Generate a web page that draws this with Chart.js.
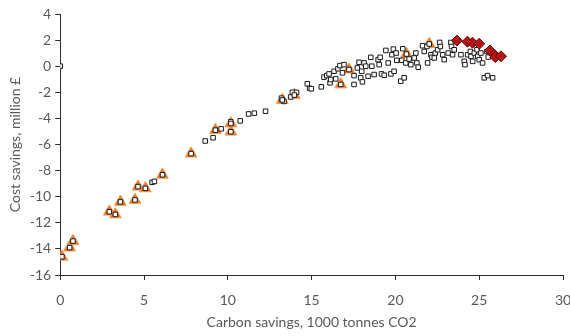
<!DOCTYPE html>
<html lang="en">
<head>
<meta charset="UTF-8">
<title>Carbon vs cost savings</title>
<script src="https://cdn.jsdelivr.net/npm/chart.js"></script>
<style>
  body { margin: 0; background: #fff; }
  #wrap { width: 570px; height: 336px; }
</style>
</head>
<body>
<div id="wrap"><canvas id="chart" width="570" height="336"></canvas></div>
<script>
// all options (open squares)
const optX = [0, 5.48, 5.62, 8.65, 9.12, 9.6, 10.18, 10.74, 11.24, 11.58, 12.25,
  13.2, 13.35, 13.75, 13.85, 14.1, 14.74, 14.88, 14.98,
  15.58, 15.74, 15.9, 16.04, 16.1, 16.14, 16.34, 16.44, 16.57, 16.69, 16.84, 16.93,
  17.53, 17.53, 17.83, 17.73, 17.99, 17.93, 18.03, 18.13, 18.23, 18.37, 18.53, 18.59,
  18.73, 18.97, 19.03, 19.09, 19.17, 19.33, 19.43, 19.57, 19.73, 19.79, 19.88, 19.92,
  20.04, 20.08, 20.32, 20.38, 20.44, 20.52, 20.62, 20.82, 20.92, 21.12, 21.28, 21.36,
  21.22, 21.62, 21.72, 21.88, 22.12, 21.92, 22.18, 22.32, 22.38, 22.52, 22.64, 22.68,
  22.82, 22.91, 23.15, 23.31, 23.35, 23.41, 23.51, 23.91, 24.11, 24.15, 24.31, 24.47,
  24.51, 24.61, 24.71, 24.87, 24.91, 25.0, 25.1, 25.2, 25.46, 25.54, 25.3, 25.5, 25.8];
const optY = [0, -8.9, -8.83, -5.73, -5.48, -4.8, -4.25, -4.19, -3.66, -3.6, -3.45,
  -2.45, -2.7, -2.36, -2.0, -2.0, -1.35, -1.7, -1.73,
  -1.58, -0.84, -0.72, -0.59, -1.27, -1.02, -0.39, -0.97, -0.2, 0.05, -0.51, 0.12,
  -0.72, -1.4, 0.3, -0.13, -0.39, -0.89, -1.2, 0.25, 0, -0.77, 0.68, 0,
  -0.64, 0.5, 0.12, 0.68, -0.59, -0.69, 1.21, 0.25, -0.59, 0.88, 1.31, -0.39,
  1.01, 0.45, -1.15, 0.45, 1.34, -0.89, 0.25, 0.55, 0.12, 0.63, 0.25, -0.08,
  1.01, 1.57, 1.13, 1.51, 0.88, 0.25, 0.68, 0.63, 1.01, 1.26, 1.82, 1.51,
  0.88, 0.5, 1.01, 1.82, 1.51, 0.88, 1.26, 0.88, 0.37, 0.12, 0.88, 1.13,
  0.75, 0.37, 1.01, 1.26, 0.75, 0.5, 1.01, 0.25, 1.13, 0.7, -0.89, -0.72, -0.89];

// selected options (orange triangles)
const selX = [0.1, 0.56, 0.76, 2.93, 3.29, 3.59, 4.46, 4.64, 5.08, 6.1, 7.81, 9.26,
  10.18, 10.18, 13.25, 13.97, 16.74, 17.23, 20.66, 22.02];
const selY = [-14.6, -13.9, -13.4, -11.15, -11.36, -10.4, -10.25, -9.23, -9.36, -8.32,
  -6.7, -4.9, -4.39, -5.02, -2.59, -2.21, -1.4, -0.26, 0.93, 1.7];

// frontier options (red diamonds)
const frontX = [23.67, 24.3, 24.6, 25.0, 25.64, 25.9, 25.96, 26.3];
const frontY = [1.96, 1.88, 1.8, 1.72, 1.2, 0.88, 0.7, 0.76];

const xTicks = [0, 5, 10, 15, 20, 25, 30];
const yTicks = [4, 2, 0, -2, -4, -6, -8, -10, -12, -14, -16];

const pts = (xs, ys) => xs.map((x, i) => ({ x: x, y: ys[i] }));

const axisColor = '#2e2e2e';
const textColor = '#595959';
const font = 'Lato, "Liberation Sans", sans-serif';

new Chart(document.getElementById('chart'), {
  type: 'scatter',
  data: {
    datasets: [
      {
        label: 'Frontier',
        data: pts(frontX, frontY),
        pointStyle: 'rectRot',
        pointRadius: 5.5,
        backgroundColor: '#b81414',
        borderColor: '#5a0a0a',
        borderWidth: 1,
        order: 1
      },
      {
        label: 'Options',
        data: pts(optX, optY).concat(pts(selX, selY)),
        pointStyle: 'rect',
        pointRadius: 3.2,
        backgroundColor: '#ffffff',
        borderColor: '#1a1a1a',
        borderWidth: 1,
        order: 2
      },
      {
        label: 'Selected',
        data: pts(selX, selY),
        pointStyle: 'triangle',
        pointRadius: 6.8,
        backgroundColor: '#ee7420',
        borderColor: '#f39a55',
        borderWidth: 1,
        order: 3
      }
    ]
  },
  options: {
    responsive: false,
    animation: false,
    layout: { autoPadding: false, padding: { top: 14, right: 0, bottom: 5, left: 7 } },
    plugins: { legend: { display: false }, tooltip: { enabled: false } },
    scales: {
      x: {
        type: 'linear',
        min: 0, max: 30,
        afterBuildTicks: s => { s.ticks = xTicks.map(v => ({ value: v })); },
        // tick padding would otherwise widen the right margin; fix box size by hand
        afterFit: s => { s.paddingRight = 7; s.paddingLeft = 0; s.height = 56; },
        grid: { drawOnChartArea: false, drawTicks: true, tickLength: 5, color: axisColor },
        border: { color: axisColor, width: 1 },
        ticks: { color: textColor, font: { family: font, size: 14 }, padding: 12 },
        title: { display: true, text: 'Carbon savings, 1000 tonnes CO2', color: textColor,
                 font: { family: font, size: 14 }, padding: { top: 0, bottom: 0 } }
      },
      y: {
        type: 'linear',
        min: -16, max: 4,
        afterBuildTicks: s => { s.ticks = yTicks.map(v => ({ value: v })); },
        grid: { drawOnChartArea: false, drawTicks: true, tickLength: 5, color: axisColor },
        border: { color: axisColor, width: 1 },
        ticks: { color: textColor, font: { family: font, size: 14 }, padding: 4 },
        title: { display: true, text: 'Cost savings, million £', color: textColor,
                 font: { family: font, size: 14 }, padding: { top: 0, bottom: 2 } }
      }
    }
  }
});
</script>
</body>
</html>
